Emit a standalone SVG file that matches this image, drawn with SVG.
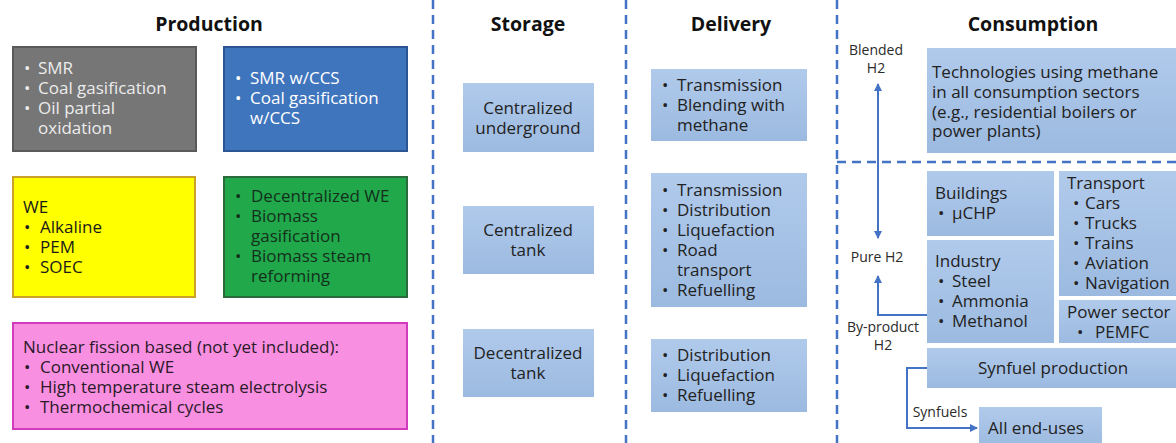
<svg xmlns="http://www.w3.org/2000/svg" width="1176" height="443" viewBox="0 0 1176 443">
<style>
text{font-family:"Open Sans","Noto Sans","Liberation Sans",sans-serif;}
.t{font-size:19.5px;font-weight:bold;fill:#111;text-anchor:middle;}
.b{font-size:17px;}
.lb{fill:url(#lb);}
.dk{fill:#222;}
.s{font-size:14px;fill:#2a2a2a;text-anchor:middle;}
.c{text-anchor:middle;}
.div{stroke:#4472c4;stroke-width:2.5;stroke-dasharray:9 6;fill:none;}
.arr{stroke:#4472c4;stroke-width:2;fill:none;}
</style>
<defs>
<linearGradient id="lb" x1="0" y1="0" x2="0" y2="1">
<stop offset="0" stop-color="#b0caeb"/>
<stop offset="1" stop-color="#9cbae0"/>
</linearGradient>
<marker id="ah" markerWidth="8" markerHeight="8" refX="7" refY="4" orient="auto" markerUnits="userSpaceOnUse">
<path d="M0,0 L8,4 L0,8 z" fill="#4472c4"/>
</marker>
<marker id="ahs" markerWidth="8" markerHeight="8" refX="1" refY="4" orient="auto" markerUnits="userSpaceOnUse">
<path d="M8,0 L0,4 L8,8 z" fill="#4472c4"/>
</marker>
</defs>
<rect width="1176" height="443" fill="#ffffff"/>

<g id="dividers">
<line class="div" x1="433" y1="0" x2="433" y2="443"/>
<line class="div" x1="626" y1="0" x2="626" y2="443"/>
<line class="div" x1="837" y1="0" x2="837" y2="443"/>
<line class="div" x1="837" y1="162" x2="1176" y2="162"/>
</g>

<g id="titles">
<text class="t" x="209" y="31">Production</text>
<text class="t" x="528" y="31">Storage</text>
<text class="t" x="731" y="31">Delivery</text>
<text class="t" x="1033" y="31">Consumption</text>
</g>

<g id="prod-fossil">
<rect x="13" y="47" width="183" height="104" fill="#767676" stroke="#5a5a5a" stroke-width="2"/>
<text class="b" fill="#ececec"><tspan x="24" y="74">•</tspan><tspan x="38" y="74">SMR</tspan><tspan x="24" y="94">•</tspan><tspan x="38" y="94">Coal gasification</tspan><tspan x="24" y="114">•</tspan><tspan x="38" y="114">Oil partial</tspan><tspan x="38" y="134">oxidation</tspan></text>
</g>

<g id="prod-ccs">
<rect x="224" y="47" width="183" height="104" fill="#3f75bd" stroke="#2c5593" stroke-width="2"/>
<text class="b" fill="#ffffff"><tspan x="235" y="84">•</tspan><tspan x="250" y="84">SMR w/CCS</tspan><tspan x="235" y="104">•</tspan><tspan x="250" y="104">Coal gasification</tspan><tspan x="250" y="124">w/CCS</tspan></text>
</g>

<g id="prod-we">
<rect x="13" y="177" width="182" height="120" fill="#ffff00" stroke="#c9a227" stroke-width="2"/>
<text class="b" fill="#1a1a1a"><tspan x="23" y="213">WE</tspan><tspan x="24" y="233">•</tspan><tspan x="40" y="233">Alkaline</tspan><tspan x="24" y="253">•</tspan><tspan x="40" y="253">PEM</tspan><tspan x="24" y="273">•</tspan><tspan x="40" y="273">SOEC</tspan></text>
</g>

<g id="prod-green">
<rect x="224" y="177" width="183" height="120" fill="#20a84a" stroke="#2b6a3b" stroke-width="2"/>
<text class="b" fill="#14301c"><tspan x="235" y="202">•</tspan><tspan x="251" y="202">Decentralized WE</tspan><tspan x="235" y="222">•</tspan><tspan x="251" y="222">Biomass</tspan><tspan x="251" y="242">gasification</tspan><tspan x="235" y="262">•</tspan><tspan x="251" y="262">Biomass steam</tspan><tspan x="251" y="282">reforming</tspan></text>
</g>

<g id="prod-nuclear">
<rect x="13" y="323" width="394" height="106" fill="#f98fe0" stroke="#d23bbb" stroke-width="2"/>
<text class="b" fill="#2a1a28"><tspan x="23" y="353">Nuclear fission based (not yet included):</tspan><tspan x="24" y="373">•</tspan><tspan x="40" y="373">Conventional WE</tspan><tspan x="24" y="393">•</tspan><tspan x="40" y="393">High temperature steam electrolysis</tspan><tspan x="24" y="413">•</tspan><tspan x="40" y="413">Thermochemical cycles</tspan></text>
</g>

<g id="st-underground">
<rect class="lb" x="463" y="83" width="131" height="69"/>
<text class="b c dk"><tspan x="528" y="114">Centralized</tspan><tspan x="528" y="134">underground</tspan></text>
</g>
<g id="st-ctank">
<rect class="lb" x="463" y="206" width="131" height="68"/>
<text class="b c dk"><tspan x="528" y="236">Centralized</tspan><tspan x="528" y="256">tank</tspan></text>
</g>
<g id="st-dtank">
<rect class="lb" x="463" y="329" width="131" height="68"/>
<text class="b c dk"><tspan x="528" y="359">Decentralized</tspan><tspan x="528" y="379">tank</tspan></text>
</g>

<g id="del-1">
<rect class="lb" x="651" y="69" width="156" height="72"/>
<text class="b dk"><tspan x="662" y="91">•</tspan><tspan x="677" y="91">Transmission</tspan><tspan x="662" y="111">•</tspan><tspan x="677" y="111">Blending with</tspan><tspan x="677" y="131">methane</tspan></text>
</g>
<g id="del-2">
<rect class="lb" x="651" y="173" width="156" height="134"/>
<text class="b dk"><tspan x="662" y="196">•</tspan><tspan x="677" y="196">Transmission</tspan><tspan x="662" y="216">•</tspan><tspan x="677" y="216">Distribution</tspan><tspan x="662" y="236">•</tspan><tspan x="677" y="236">Liquefaction</tspan><tspan x="662" y="256">•</tspan><tspan x="677" y="256">Road</tspan><tspan x="677" y="276">transport</tspan><tspan x="662" y="296">•</tspan><tspan x="677" y="296">Refuelling</tspan></text>
</g>
<g id="del-3">
<rect class="lb" x="651" y="339" width="156" height="73"/>
<text class="b dk"><tspan x="662" y="361">•</tspan><tspan x="677" y="361">Distribution</tspan><tspan x="662" y="381">•</tspan><tspan x="677" y="381">Liquefaction</tspan><tspan x="662" y="401">•</tspan><tspan x="677" y="401">Refuelling</tspan></text>
</g>

<g id="con-methane">
<rect class="lb" x="927" y="48" width="260" height="105"/>
<text class="b dk"><tspan x="932" y="78">Technologies using methane</tspan><tspan x="932" y="98">in all consumption sectors</tspan><tspan x="932" y="118">(e.g., residential boilers or</tspan><tspan x="932" y="137">power plants)</tspan></text>
</g>
<g id="con-buildings">
<rect class="lb" x="927" y="171" width="127" height="65"/>
<text class="b dk"><tspan x="935" y="199">Buildings</tspan><tspan x="938" y="219">•</tspan><tspan x="952" y="219">µCHP</tspan></text>
</g>
<g id="con-industry">
<rect class="lb" x="927" y="240" width="127" height="103"/>
<text class="b dk"><tspan x="935" y="267">Industry</tspan><tspan x="938" y="287">•</tspan><tspan x="952" y="287">Steel</tspan><tspan x="938" y="307">•</tspan><tspan x="952" y="307">Ammonia</tspan><tspan x="938" y="327">•</tspan><tspan x="952" y="327">Methanol</tspan></text>
</g>
<g id="con-transport">
<rect class="lb" x="1059" y="171" width="130" height="125"/>
<text class="b dk"><tspan x="1067" y="189">Transport</tspan><tspan x="1073" y="209">•</tspan><tspan x="1085" y="209">Cars</tspan><tspan x="1073" y="229">•</tspan><tspan x="1085" y="229">Trucks</tspan><tspan x="1073" y="249">•</tspan><tspan x="1085" y="249">Trains</tspan><tspan x="1073" y="269">•</tspan><tspan x="1085" y="269">Aviation</tspan><tspan x="1073" y="289">•</tspan><tspan x="1085" y="289">Navigation</tspan></text>
</g>
<g id="con-power">
<rect class="lb" x="1059" y="300" width="130" height="43"/>
<text class="b dk"><tspan x="1067" y="318">Power sector</tspan><tspan x="1077" y="338">•</tspan><tspan x="1095" y="338">PEMFC</tspan></text>
</g>
<g id="con-synfuel">
<rect class="lb" x="927" y="348" width="260" height="40"/>
<text class="b c dk" x="1053" y="374">Synfuel production</text>
</g>
<g id="con-enduses">
<rect class="lb" x="979" y="407" width="123" height="40"/>
<text class="b c dk" x="1036" y="434">All end-uses</text>
</g>

<g id="connectors">
<line class="arr" x1="878" y1="238" x2="878" y2="84" marker-start="url(#ahs)" marker-end="url(#ah)"/>
<polyline class="arr" points="927,315 878,315 878,276" marker-end="url(#ah)"/>
<polyline class="arr" points="927,368 907,368 907,428 977,428" marker-end="url(#ah)"/>
</g>

<g id="labels">
<text class="s"><tspan x="876" y="55">Blended</tspan><tspan x="876" y="73">H2</tspan></text>
<text class="s" x="877" y="262">Pure H2</text>
<text class="s"><tspan x="883" y="332">By-product</tspan><tspan x="883" y="350">H2</tspan></text>
<text class="s" x="940" y="417">Synfuels</text>
</g>
</svg>
